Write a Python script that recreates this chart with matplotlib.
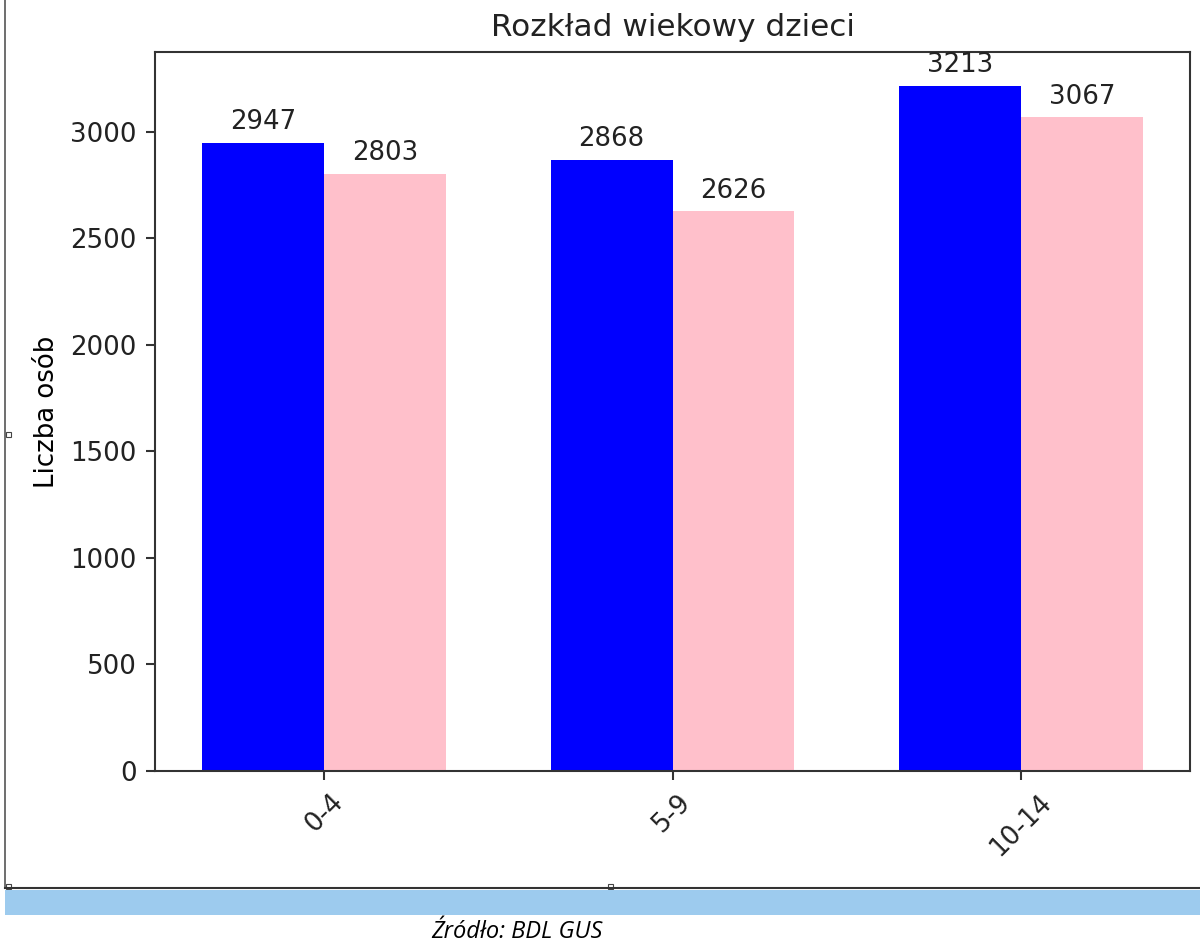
import numpy as np
import matplotlib
matplotlib.use('Agg')
import matplotlib.pyplot as plt
from matplotlib.patches import Rectangle
from matplotlib.lines import Line2D

# data
grupy = ['0-4', '5-9', '10-14']
chlopcy = [2947, 2868, 3213]
dziewczynki = [2803, 2626, 3067]

s = 1.87  # scale of the pasted picture
plt.rcParams['font.family'] = ['DejaVu Sans']
plt.rcParams['font.size'] = 10 * s
plt.rcParams['axes.linewidth'] = 0.8 * s
plt.rcParams['xtick.major.width'] = 0.8 * s
plt.rcParams['ytick.major.width'] = 0.8 * s
plt.rcParams['xtick.major.size'] = 3.5 * s
plt.rcParams['ytick.major.size'] = 3.5 * s
plt.rcParams['xtick.major.pad'] = 3.5 * s
plt.rcParams['ytick.major.pad'] = 3.5 * s
plt.rcParams['axes.titlepad'] = 6 * s
plt.rcParams['axes.labelpad'] = 4 * s
plt.rcParams['axes.edgecolor'] = '#333333'
plt.rcParams['text.color'] = '#222222'
plt.rcParams['xtick.color'] = '#333333'
plt.rcParams['ytick.color'] = '#333333'
plt.rcParams['xtick.labelcolor'] = '#222222'
plt.rcParams['ytick.labelcolor'] = '#222222'

fig = plt.figure(figsize=(12, 9.48), dpi=100)
ax = fig.add_axes([155/1200, 1 - 771/948, (1190-155)/1200, (771-52)/948])

x = np.arange(len(grupy))
w = 0.35
b1 = ax.bar(x - w/2, chlopcy, w, color='blue')
b2 = ax.bar(x + w/2, dziewczynki, w, color='pink')

for bars in (b1, b2):
    for r in bars:
        h = r.get_height()
        ax.annotate(str(h), xy=(r.get_x() + r.get_width()/2, h),
                    xytext=(0, 3*s), textcoords='offset points',
                    ha='center', va='bottom')

ax.set_xticks(x)
ax.set_xticklabels(grupy, rotation=45)
ax.set_ylabel('Liczba osób')
ax.set_title('Rozkład wiekowy dzieci', fontsize=12*s)

# document frame around the pasted picture
fig.add_artist(Line2D([5/1200, 5/1200], [1, 1 - 888/948], color='#555555', lw=1.2))
fig.add_artist(Line2D([5/1200, 1], [1 - 888/948, 1 - 888/948], color='#333333', lw=1.5))
for hx, hy in [(8, 435), (8, 886), (610, 886)]:
    fig.add_artist(Rectangle(((hx-2.5)/1200, 1 - (hy+2.5)/948), 5/1200, 5/948,
                             facecolor='white', edgecolor='#444444', lw=0.8))
fig.add_artist(Rectangle((5/1200, 1 - 915/948), 1 - 5/1200, 25/948,
                         facecolor='#9dcbee', edgecolor='none'))
fig.text(517/1200, 1 - 932/948, 'Źródło: BDL GUS', family='Open Sans',
         style='italic', fontsize=17, ha='center', va='center', color='black')

fig.savefig('out.png', dpi=100)
